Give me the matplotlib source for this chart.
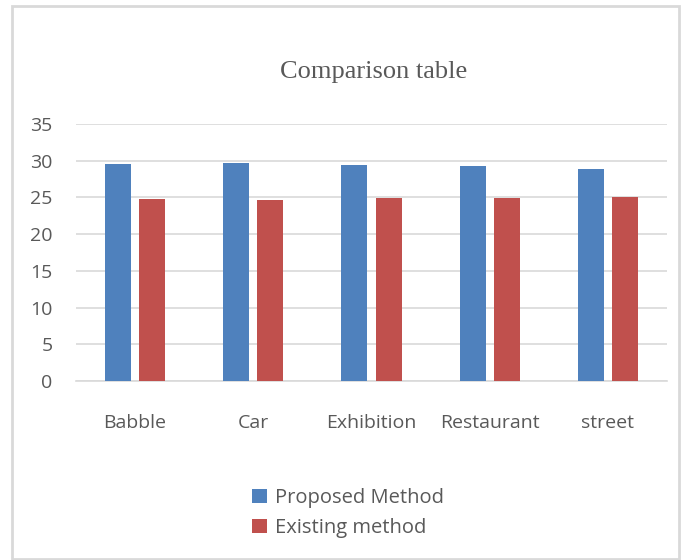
import matplotlib
matplotlib.use("Agg")
import matplotlib.pyplot as plt
import numpy as np
from matplotlib.patches import Rectangle

categories = ["Babble", "Car", "Exhibition", "Restaurant", "street"]
proposed = [29.55, 29.7, 29.45, 29.3, 28.85]
existing = [24.8, 24.7, 24.95, 24.95, 25.0]
yticks = [0, 5, 10, 15, 20, 25, 30, 35]

BLUE = "#4F81BD"
RED = "#C0504D"
TEXT = "#595959"
GRID = "#D9D9D9"
FONT = "Open Sans"

fig = plt.figure(figsize=(6.81, 5.6), dpi=100)
ax = fig.add_axes([76 / 681, 1 - 381 / 560, 591 / 681, 257 / 560])

x = np.arange(len(categories))
w = 0.22
off = 0.145
ax.bar(x - off, proposed, w, color=BLUE, label="Proposed Method", zorder=3)
ax.bar(x + off, existing, w, color=RED, label="Existing method", zorder=3)

ax.set_xlim(-0.5, len(categories) - 0.5)
ax.set_ylim(0, 35)
ax.set_yticks(yticks)
ax.set_xticks(x)
ax.set_xticklabels(categories)
ax.grid(axis="y", color=GRID, linewidth=1.2, zorder=0)
ax.tick_params(length=0, labelsize=14, labelcolor=TEXT)
ax.tick_params(axis="y", pad=17)
ax.tick_params(axis="x", pad=24)
for lbl in ax.get_xticklabels() + ax.get_yticklabels():
    lbl.set_fontfamily(FONT)
for s in ["top", "right", "left"]:
    ax.spines[s].set_visible(False)
ax.spines["bottom"].set_color(GRID)
ax.spines["bottom"].set_linewidth(1.2)

fig.text(374 / 681, 1 - 72 / 560, "Comparison table", ha="center", va="center",
         fontsize=19, color=TEXT, family="Liberation Serif")

fig.legend(loc="center", bbox_to_anchor=(348 / 681, 1 - 513 / 560), frameon=False,
           prop={"family": FONT, "size": 14.5}, labelcolor=TEXT,
           handlelength=0.7, handleheight=0.7, handletextpad=0.4, labelspacing=0.48)

fig.patches.append(Rectangle((12 / 681, 1 / 560), 667 / 681, 553 / 560,
                             transform=fig.transFigure, fill=False,
                             edgecolor=GRID, linewidth=2))

fig.savefig("out.png", dpi=100)
